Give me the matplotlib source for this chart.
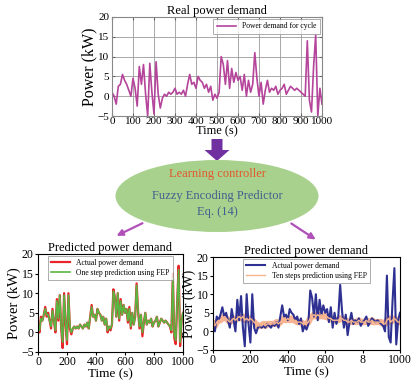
import numpy as np
import matplotlib
matplotlib.use("Agg")
import matplotlib.pyplot as plt
from matplotlib import patches

plt.rcParams['font.family'] = ['Liberation Serif', 'DejaVu Serif']

# time axis, one sample every 10 s
time_s = np.arange(0, 1001, 10)

# top panel: real power demand for the cycle (kW)
real_power = [
    1, 0, -2, 2.5, 3, 5.5, 4, 3, 1.5, 0,
    4.5, 2, -2.5, 7.5, 3, 8, 0.5, -5, 8.3, 1,
    -4.5, 8.7, 0.5, -3, -0.5, 0.5, 0, 1, 0.5, 1,
    2, 0.5, 1, 0.5, 1.5, 0, 3, 5.5, 3, 3.5,
    2, 5, 4, 3.5, 2, 3, 1, 2.5, -1, 0.5,
    -0.5, 1, 10, 8, 3, 9, 2, 7, 3.5, 6,
    4, 5, 1.5, 5.5, 0, 4, 1, 3, 11, 4.5,
    0, 3.5, -2, 1.5, 4, 1, 2, 1.5, 2.5, 0.5,
    1.5, 2, 3, 0.5, 1.5, 2.5, 2, 1.5, 2, 1.5,
    1, 0.5, 0, 14, -1, -4, 7.5, 15.5, -5, 2,
    -2]

# bottom panels: actual demand and predictions (kW)
actual_power = [
    2, 0, 4, 3, 4.5, 6.5, 4, 5, 3, 1,
    6, 3, 0, 8.5, 3, 9.5, 1, -4, 10, 2,
    -3, 10, 1, -0.5, 1, 1.5, 1, 1.5, 1, 2,
    1.5, 1, 2, 1.5, 2.5, 1, 4, 7, 4, 4.5,
    3, 6, 5, 4.5, 3, 4, 2, 3.5, 0, 1.5,
    0.5, 2, 11, 9, 4, 10, 3, 8.5, 4.5, 7,
    5, 6, 2.5, 6.5, 1, 5, 2, 4, 12.5, 5.5,
    1, 4.5, -1, 2.5, 5, 2, 3, 2.5, 3.5, 1.5,
    2.5, 3, 4, 1.5, 2.5, 3.5, 3, 2.5, 3, 2.5,
    2, 1.5, 0, 15, -1.5, -3, 8, 17, -3.5, 3,
    5]

one_step_pred = [
    2, 0.5, 3.5, 3, 4.5, 6, 4.5, 4.5, 3, 1.5,
    5.5, 3, 0.5, 8, 3.5, 9.5, 1.5, -2.5, 9.5, 2.5,
    -2, 9.5, 1.5, 0, 1, 1.5, 1, 1.5, 1, 2,
    1.5, 1, 2, 1.5, 2.5, 1, 4, 6.5, 4, 4.5,
    3, 6, 5, 4.5, 3, 4, 2, 3.5, 0.5, 1.5,
    1, 2, 10.5, 9, 4, 10, 3.5, 8, 4.5, 7,
    5, 6, 3, 6, 1.5, 5, 2, 4, 12, 5.5,
    1.5, 4.5, 0, 2.5, 5, 2, 3, 2.5, 3.5, 1.5,
    2.5, 3, 4, 1.5, 2.5, 3.5, 3, 2.5, 3, 2.5,
    2, 1.5, 0.5, 14, -0.5, -2, 8, 16, -2.5, 3,
    5]

ten_step_pred = [
    2, 1.5, 2.5, 3, 3, 3.5, 4, 3.5, 3, 2.5,
    3, 3.5, 3, 3.5, 4, 3.5, 4, 3, 3.5, 3,
    3.5, 3, 2.5, 2, 1.5, 1.5, 1.5, 2, 1.5, 2,
    2, 2, 2, 2, 2.5, 2, 2.5, 3, 3.5, 3,
    3.5, 3, 3.5, 3, 3, 2.5, 2.5, 2.5, 2, 2,
    2, 2.5, 3.5, 4, 4.5, 4, 4.5, 4, 4.5, 4,
    4, 4, 3.5, 3.5, 3, 3, 3, 3, 3.5, 3.5,
    3, 3, 2.5, 2.5, 3, 2.5, 2.5, 2.5, 3, 2.5,
    2.5, 2.5, 3, 2.5, 2.5, 3, 2.5, 2.5, 2.5, 2.5,
    2.5, 2, 2, 3, 3.5, 2.5, 3, 3.5, 3, 2.5,
    2.5]

W, H = 416, 384
fig = plt.figure(figsize=(W / 100, H / 100), dpi=100)


def px_axes(x0, y0, x1, y1):
    # axes from pixel box (top-left origin)
    return fig.add_axes([x0 / W, 1 - y1 / H, (x1 - x0) / W, (y1 - y0) / H])


# diagram layer: arrows and ellipse
dg = fig.add_axes([0, 0, 1, 1])
dg.set_xlim(0, W)
dg.set_ylim(H, 0)
dg.axis('off')
dg.add_patch(patches.FancyArrow(217, 139, 0, 22, width=11, head_width=25,
                                head_length=11, length_includes_head=True,
                                color='#7030a0', lw=0))
dg.add_patch(patches.Ellipse((217, 196), 203, 72, color='#a9d18e', lw=0))
dg.text(217, 174, 'Learning controller', color='#e2572b', fontsize=9,
        ha='center', va='center')
dg.text(217, 196, 'Fuzzy Encoding Predictor', color='#3f5f8f', fontsize=9,
        ha='center', va='center')
dg.text(217, 212, 'Eq. (14)', color='#3f5f8f', fontsize=9,
        ha='center', va='center')
arrow_kw = dict(arrowstyle='-|>', color='#b050b8', lw=1.6, mutation_scale=9)
dg.annotate('', xy=(114, 237), xytext=(145, 222), arrowprops=arrow_kw)
dg.annotate('', xy=(318, 241), xytext=(289, 222), arrowprops=arrow_kw)

# top panel
ax = px_axes(112, 17, 322, 116)
ax.plot(time_s, real_power, color='#b5449b', lw=1.2,
        label='Power demand for cycle')
ax.set_xlim(0, 1000)
ax.set_ylim(-5, 20)
ax.set_xticks(np.arange(0, 1001, 100))
ax.set_yticks(np.arange(-5, 21, 5))
ax.grid(True, color='#9a9a9a', lw=0.6)
ax.tick_params(direction='in', top=True, right=True, length=2, pad=1,
               labelsize=8, color='#666666')
ax.tick_params(axis='y', pad=2)
for s in ax.spines.values():
    s.set_color('#888888')
ax.set_title('Real power demand', fontsize=9, pad=2)
ax.set_xlabel('Time (s)', fontsize=9, labelpad=-1)
ax.set_ylabel('Power (kW)', fontsize=11.5, labelpad=0)
leg = ax.legend(loc='upper right', fontsize=5.5, fancybox=False,
                edgecolor='#888888', handlelength=2.5, borderpad=0.5,
                borderaxespad=0.2)
leg.get_frame().set_linewidth(0.6)

# bottom-left panel
axl = px_axes(38, 254, 183, 352)
axl.plot(time_s, actual_power, color='#e8262a', lw=1.6,
         label='Actual power demand')
axl.plot(time_s, one_step_pred, color='#5ab543', lw=1.2,
         label='One step prediction using FEP')
axl.set_xlim(0, 1000)
axl.set_ylim(-5, 20)
axl.set_xticks(np.arange(0, 1001, 200))
axl.set_yticks(np.arange(-5, 21, 5))
axl.tick_params(length=2, pad=1, labelsize=8.5)
axl.set_title('Predicted power demand', fontsize=9, pad=2)
axl.set_xlabel('Time (s)', fontsize=9.5, labelpad=0)
axl.set_ylabel('Power (kW)', fontsize=10.5, labelpad=0)
leg = axl.legend(loc='upper center', fontsize=5.5, fancybox=False,
                 edgecolor='#888888', handlelength=2.5, borderpad=0.4,
                 borderaxespad=0.2, labelspacing=0.3)
leg.get_frame().set_linewidth(0.6)

# bottom-right panel
axr = px_axes(213, 257, 400, 350)
axr.plot(time_s, ten_step_pred, color='#f6a27a', lw=4.5, alpha=0.8)
axr.plot(time_s, actual_power, color='#2e3192', lw=1.5,
         label='Actual power demand')
axr.plot(time_s, ten_step_pred, color='#f7b58e', lw=1.0,
         label='Ten steps prediction using FEP')
axr.set_xlim(0, 1000)
axr.set_ylim(-5, 20)
axr.set_xticks(np.arange(0, 1001, 200))
axr.set_xticklabels(['0', '200', '400', '600', '8', '1000'])
axr.set_yticks(np.arange(-5, 21, 5))
axr.tick_params(length=2, pad=1, labelsize=8.5)
axr.set_title('Predicted power demand', fontsize=9, pad=2)
axr.set_xlabel('Time (s)', fontsize=9.5, labelpad=0)
axr.set_ylabel('Power (kW)', fontsize=10, labelpad=0)
leg = axr.legend(loc='upper center', fontsize=5.5, fancybox=False,
                 edgecolor='#888888', handlelength=2.5, borderpad=0.4,
                 borderaxespad=0.2, labelspacing=0.3)
leg.get_frame().set_linewidth(0.6)

fig.savefig('out.png', dpi=100)
